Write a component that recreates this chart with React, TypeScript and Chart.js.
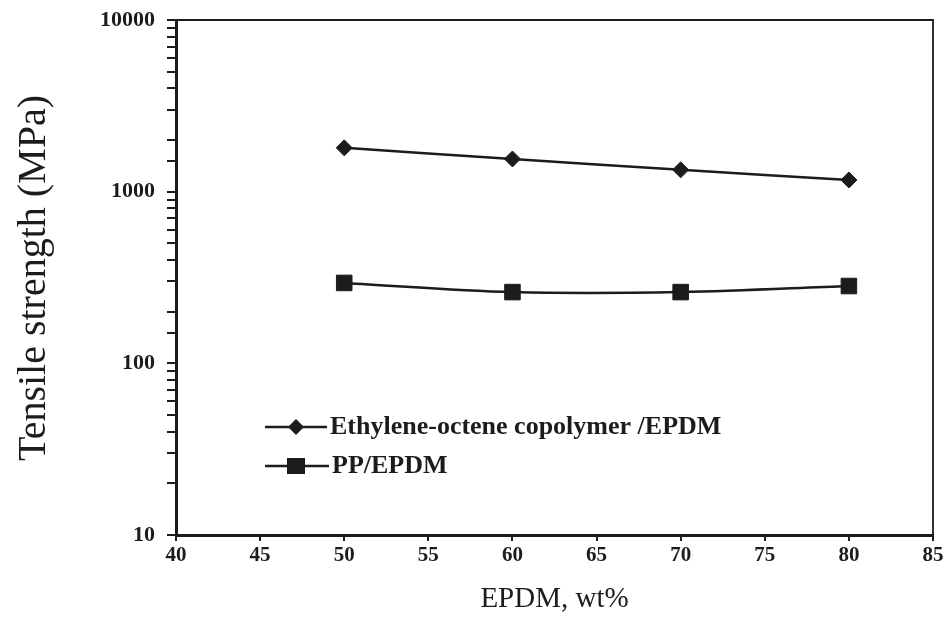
import React, { useEffect, useRef } from 'react';
import { Chart, registerables } from 'chart.js';

Chart.register(...registerables);

// ---- data ----
const epdmWt = [50, 60, 70, 80];
const eocEpdm = [1800, 1550, 1340, 1170];
const ppEpdm = [294, 260, 260, 282];
const seriesNames = ['Ethylene-octene copolymer /EPDM', 'PP/EPDM'];
const xTitle = 'EPDM, wt%';
const yTitle = 'Tensile strength (MPa)';
const yMajorTicks = [10, 100, 1000, 10000];

const INK = '#1c1c1c';
const SERIF = '"Liberation Serif", "Times New Roman", serif';

const decor = {
  id: 'decor',
  afterDraw(chart: any) {
    const { ctx, chartArea: a } = chart;
    ctx.save();
    // frame top/right
    ctx.strokeStyle = INK;
    ctx.lineWidth = 1.8;
    ctx.beginPath();
    ctx.moveTo(a.left, a.top);
    ctx.lineTo(a.right, a.top);
    ctx.lineTo(a.right, a.bottom);
    ctx.stroke();

    // axis titles
    ctx.fillStyle = INK;
    ctx.font = `29px ${SERIF}`;
    ctx.textAlign = 'center';
    ctx.textBaseline = 'middle';
    ctx.fillText(xTitle, (a.left + a.right) / 2, 599);
    ctx.save();
    ctx.font = `40px ${SERIF}`;
    ctx.translate(34, 278);
    ctx.rotate(-Math.PI / 2);
    ctx.fillText(yTitle, 0, 0);
    ctx.restore();

    // legend
    const lx = a.left + 89;
    const y1 = 427;
    const y2 = 466;
    ctx.lineWidth = 2.5;
    ctx.beginPath();
    ctx.moveTo(lx, y1);
    ctx.lineTo(lx + 62, y1);
    ctx.moveTo(lx, y2);
    ctx.lineTo(lx + 64, y2);
    ctx.stroke();
    // diamond
    const dx = lx + 31;
    const r = 8;
    ctx.beginPath();
    ctx.moveTo(dx - r, y1);
    ctx.lineTo(dx, y1 - r);
    ctx.lineTo(dx + r, y1);
    ctx.lineTo(dx, y1 + r);
    ctx.closePath();
    ctx.fill();
    // square
    ctx.fillRect(lx + 22, y2 - 8, 18, 16);

    ctx.font = `bold 26px ${SERIF}`;
    ctx.textAlign = 'left';
    ctx.fillText(seriesNames[0], lx + 65, y1);
    ctx.fillText(seriesNames[1], lx + 67, y2);
    ctx.restore();
  },
};

export default function App() {
  const ref = useRef<HTMLCanvasElement>(null);
  useEffect(() => {
    const canvas = ref.current;
    if (!canvas) return;
    const chart = new Chart(canvas, {
      type: 'line',
      data: {
        datasets: [
          {
            label: seriesNames[0],
            data: epdmWt.map((x, i) => ({ x, y: eocEpdm[i] })),
            borderColor: INK,
            backgroundColor: INK,
            borderWidth: 2.5,
            pointStyle: 'rectRot',
            pointRadius: 8,
            pointBorderWidth: 1,
            tension: 0.3,
          },
          {
            label: seriesNames[1],
            data: epdmWt.map((x, i) => ({ x, y: ppEpdm[i] })),
            borderColor: INK,
            backgroundColor: INK,
            borderWidth: 2.5,
            pointStyle: 'rect',
            pointRadius: 11,
            pointBorderWidth: 1,
            tension: 0.35,
          },
        ],
      },
      options: {
        responsive: false,
        animation: false,
        layout: { padding: { top: 20, right: 13, left: 0, bottom: 0 } },
        plugins: {
          legend: { display: false },
          tooltip: { enabled: false },
          title: { display: false },
        },
        scales: {
          x: {
            type: 'linear',
            min: 40,
            max: 85,
            afterFit: (s: any) => {
              s.height = 100;
            },
            ticks: {
              stepSize: 5,
              color: INK,
              font: { family: SERIF, size: 21, weight: 'bold' },
              padding: 2,
              maxRotation: 0,
            },
            grid: {
              drawOnChartArea: false,
              drawTicks: true,
              tickLength: 6,
              tickColor: INK,
              lineWidth: 2,
            },
            border: { color: INK, width: 3 },
          },
          y: {
            type: 'logarithmic',
            min: 10,
            max: 10000,
            afterFit: (s: any) => {
              s.width = 176;
              s.paddingTop = 0;
              s.paddingBottom = 0;
            },
            ticks: {
              autoSkip: false,
              color: INK,
              font: { family: SERIF, size: 22, weight: 'bold' },
              padding: 12,
              callback: (v: any) => {
                const n = Number(v);
                return yMajorTicks.includes(n) ? String(n) : '';
              },
            },
            grid: {
              drawOnChartArea: false,
              drawTicks: true,
              tickLength: 9,
              tickColor: INK,
              lineWidth: 2,
            },
            border: { color: INK, width: 3 },
          },
        },
      },
      plugins: [decor],
    });
    return () => chart.destroy();
  }, []);
  return (
    <div style={{ position: 'absolute', left: 0, top: 0, width: 946, height: 635, background: '#fff' }}>
      <canvas ref={ref} width={946} height={635} style={{ display: 'block' }} />
    </div>
  );
}
